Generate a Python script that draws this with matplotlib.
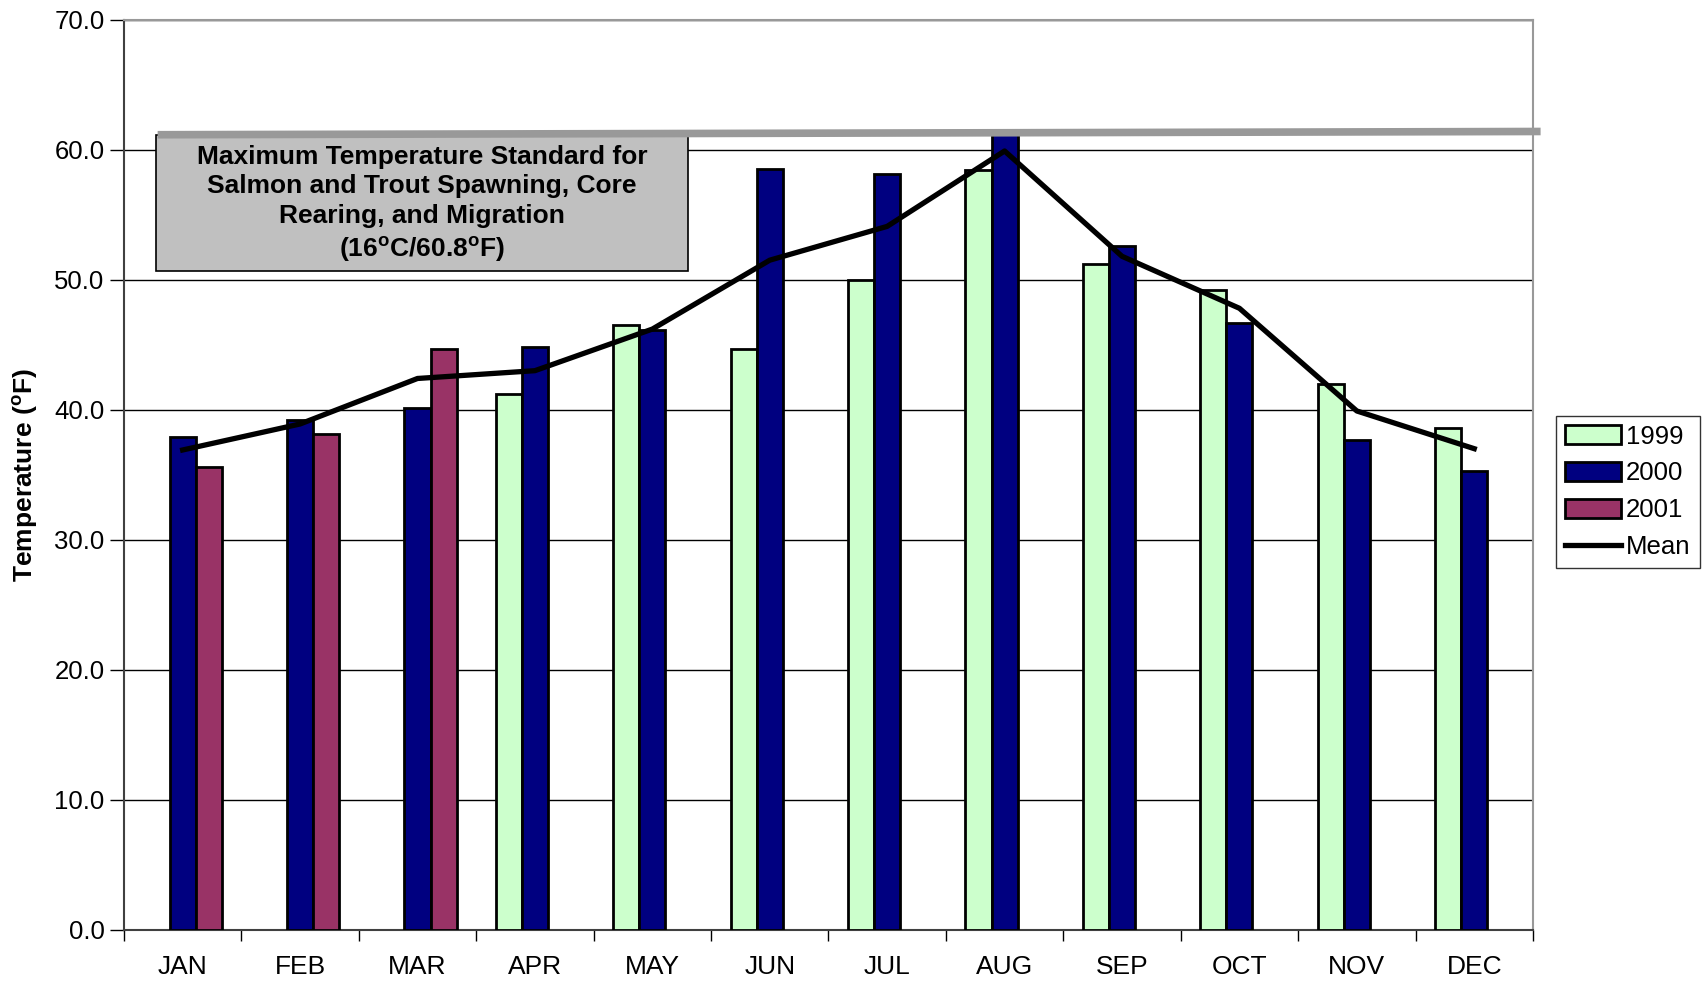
import matplotlib
matplotlib.use("Agg")
import matplotlib.pyplot as plt
import numpy as np
from matplotlib.patches import Rectangle

plt.rcParams['font.family'] = ['Liberation Sans', 'DejaVu Sans']
plt.rcParams['mathtext.fontset'] = 'custom'
plt.rcParams['mathtext.rm'] = 'Liberation Sans'
plt.rcParams['mathtext.bf'] = 'Liberation Sans:bold'

months = ['JAN', 'FEB', 'MAR', 'APR', 'MAY', 'JUN', 'JUL', 'AUG', 'SEP', 'OCT', 'NOV', 'DEC']
t1999 = [np.nan, np.nan, np.nan, 41.2, 46.5, 44.7, 50.0, 58.4, 51.2, 49.2, 42.0, 38.6]
t2000 = [37.9, 39.2, 40.1, 44.8, 46.1, 58.5, 58.1, 61.2, 52.6, 46.7, 37.7, 35.3]
t2001 = [35.6, 38.1, 44.7, np.nan, np.nan, np.nan, np.nan, np.nan, np.nan, np.nan, np.nan, np.nan]
mean = [36.9, 38.9, 42.4, 43.0, 46.2, 51.5, 54.1, 59.9, 51.8, 47.8, 39.9, 37.0]
standard_label = "Maximum Temperature Standard for\nSalmon and Trout Spawning, Core\nRearing, and Migration\n(16$^{\\mathbf{o}}$C/60.8$^{\\mathbf{o}}$F)"
yticks = [0, 10, 20, 30, 40, 50, 60, 70]

fig = plt.figure(figsize=(17.05, 9.84), dpi=100)
ax = fig.add_axes([0.0727, 0.0552, 0.8264, 0.9248])

x = np.arange(len(months))
w = 1 / 4.5
b1 = ax.bar(x - w, t1999, w, color='#CCFFCC', edgecolor='black', linewidth=2.0, label='1999', zorder=3)
b2 = ax.bar(x, t2000, w, color='#000080', edgecolor='black', linewidth=2.0, label='2000', zorder=3)
b3 = ax.bar(x + w, t2001, w, color='#993366', edgecolor='black', linewidth=2.0, label='2001', zorder=3)
ln, = ax.plot(x, mean, color='black', linewidth=3.8, label='Mean', zorder=4)

# standard box and line
box = Rectangle((-0.23, 50.7), 4.536, 10.4, facecolor='#C0C0C0', edgecolor='black',
                linewidth=1.2, zorder=5)
ax.add_patch(box)
ax.text(2.038, 55.8, standard_label, ha='center', va='center', fontsize=19,
        fontweight='bold', linespacing=1.28, zorder=6)
ax.plot([-0.213, 11.565], [61.15, 61.4], color='#999999', linewidth=5.5,
        solid_capstyle='butt', clip_on=False, zorder=7)

ax.set_xlim(-0.5, 11.5)
ax.set_ylim(0, 70)
ax.set_yticks(yticks)
ax.set_yticklabels([f"{v:.1f}" for v in yticks], fontsize=18.5)
ax.yaxis.grid(True, color='black', linewidth=1.0, zorder=0)
ax.set_axisbelow(True)
ax.tick_params(axis='y', length=10, width=1.0, direction='out', pad=4)

ax.set_xticks(x)
ax.set_xticklabels(months, fontsize=19)
ax.set_xticks(np.arange(-0.5, 12, 1), minor=True)
ax.tick_params(axis='x', which='major', length=0, pad=18)
ax.tick_params(axis='x', which='minor', length=8, width=1.0, direction='out')

for s in ['left', 'bottom']:
    ax.spines[s].set_color('#404040')
    ax.spines[s].set_linewidth(1.5)
for s in ['top', 'right']:
    ax.spines[s].set_color('#999999')
    ax.spines[s].set_linewidth(1.5)

ax.set_ylabel("Temperature ($^{\\mathbf{o}}$F)", fontsize=19, fontweight='bold', labelpad=10)

leg = ax.legend([b1, b2, b3, ln], ['1999', '2000', '2001', 'Mean'],
                loc='upper left', bbox_to_anchor=(1.016, 0.565), fontsize=18.5,
                frameon=True, fancybox=False, edgecolor='black', handlelength=2.2,
                handleheight=0.75, handletextpad=0.2, borderpad=0.35, labelspacing=0.5,
                borderaxespad=0)
leg.get_frame().set_linewidth(1.0)

fig.savefig('out.png', dpi=100)
